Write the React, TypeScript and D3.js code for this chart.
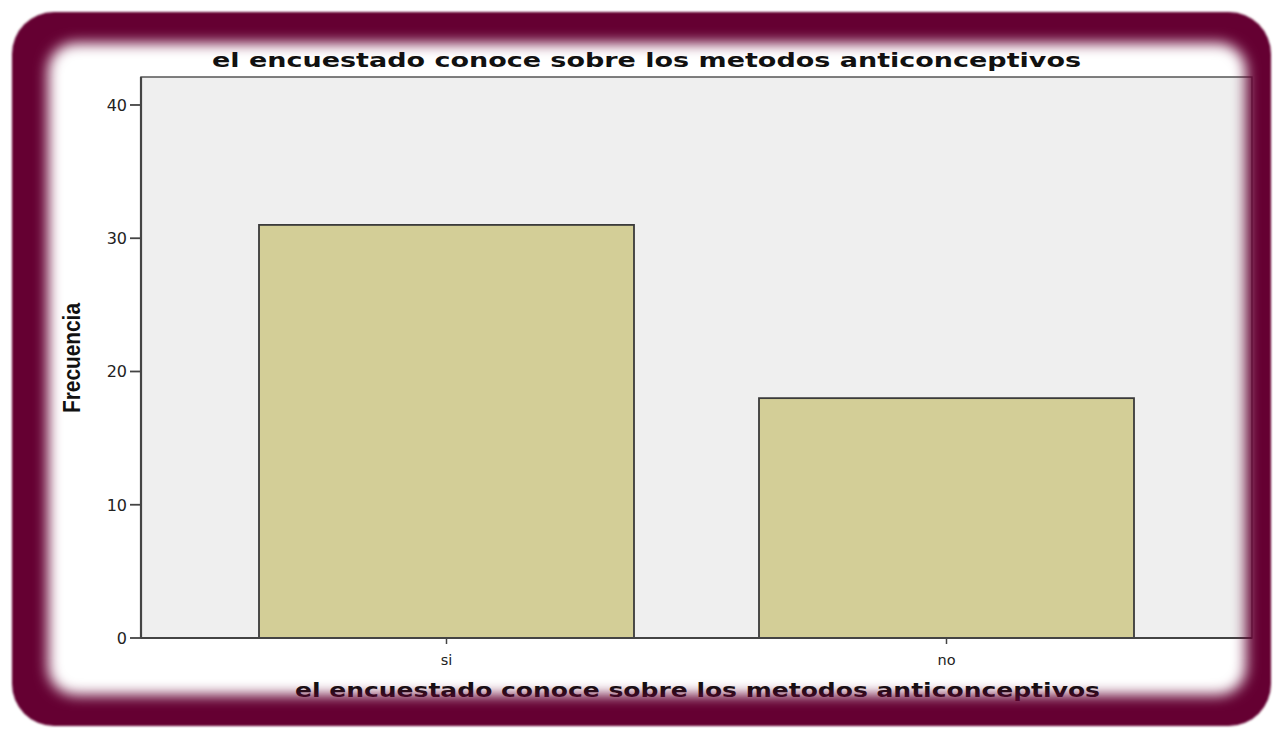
import React from "react";
import * as d3 from "d3";

const categories = ["si", "no"];
const frequencies = [31, 18];
const yTicks = [0, 10, 20, 30, 40];
const titleText = "el encuestado conoce sobre los metodos anticonceptivos";
const xAxisTitle = "el encuestado conoce sobre los metodos anticonceptivos";
const yAxisTitle = "Frecuencia";

const W = 1274;
const H = 729;
const plot = { left: 141, right: 1252, top: 77, bottom: 638 };

export default function App() {
  const x = d3
    .scaleBand<string>()
    .domain(categories)
    .range([plot.left, plot.right])
    .paddingInner(0.25)
    .paddingOuter(0.236);
  const y = d3.scaleLinear().domain([0, 42.1]).range([plot.bottom, plot.top]);

  return (
    <svg
      width={W}
      height={H}
      style={{ position: "absolute", left: 0, top: 0, display: "block" }}
    >
      <defs>
        <filter id="blurInner" x="-10%" y="-10%" width="120%" height="120%">
          <feGaussianBlur stdDeviation="7" />
        </filter>
        <filter id="blurOuter" x="-5%" y="-5%" width="110%" height="110%">
          <feGaussianBlur stdDeviation="1.2" />
        </filter>
        <mask id="frameMask" maskUnits="userSpaceOnUse" x={0} y={0} width={W} height={H}>
          <rect x={0} y={0} width={W} height={H} fill="white" />
          <rect
            x={48}
            y={43}
            width={1198}
            height={652}
            rx={28}
            ry={28}
            fill="black"
            filter="url(#blurInner)"
          />
        </mask>
      </defs>
      <rect x={0} y={0} width={W} height={H} fill="#ffffff" />

      {/* plot background */}
      <rect
        x={plot.left}
        y={plot.top}
        width={plot.right - plot.left}
        height={plot.bottom - plot.top}
        fill="#efefef"
        stroke="#555"
        strokeWidth={1.5}
      />

      {/* bars */}
      {categories.map((c, i) => (
        <rect
          key={c}
          x={x(c)!}
          y={y(frequencies[i])}
          width={x.bandwidth()}
          height={y(0) - y(frequencies[i])}
          fill="#d3ce97"
          stroke="#3a3a3a"
          strokeWidth={1.8}
        />
      ))}

      {/* y axis */}
      <line x1={plot.left} x2={plot.left} y1={plot.top} y2={plot.bottom} stroke="#444" strokeWidth={2.2} />
      {yTicks.map((t) => (
        <g key={t}>
          <line x1={plot.left - 11} x2={plot.left} y1={y(t)} y2={y(t)} stroke="#444" strokeWidth={1.8} />
          <text
            x={plot.left - 14}
            y={y(t) + 6}
            textAnchor="end"
            fontFamily="DejaVu Sans, Verdana, sans-serif"
            fontSize={16}
            fill="#222"
          >
            {t}
          </text>
        </g>
      ))}

      {/* x axis */}
      <line x1={plot.left} x2={plot.right} y1={plot.bottom} y2={plot.bottom} stroke="#444" strokeWidth={2} />
      {categories.map((c) => {
        const cx = x(c)! + x.bandwidth() / 2;
        return (
          <g key={c}>
            <line x1={cx} x2={cx} y1={plot.bottom} y2={plot.bottom + 6} stroke="#444" strokeWidth={1.5} />
            <text
              x={cx}
              y={665}
              textAnchor="middle"
              fontFamily="DejaVu Sans, Verdana, sans-serif"
              fontSize={14.5}
              fill="#222"
            >
              {c}
            </text>
          </g>
        );
      })}

      {/* titles */}
      <text
        x={646.5}
        y={67}
        textAnchor="middle"
        fontFamily="DejaVu Sans, Verdana, sans-serif"
        fontWeight="bold"
        fontSize={19.5}
        textLength={869}
        lengthAdjust="spacingAndGlyphs"
        fill="#111"
      >
        {titleText}
      </text>
      <text
        x={697.5}
        y={697}
        textAnchor="middle"
        fontFamily="DejaVu Sans, Verdana, sans-serif"
        fontWeight="bold"
        fontSize={19.5}
        textLength={805}
        lengthAdjust="spacingAndGlyphs"
        fill="#111"
      >
        {xAxisTitle}
      </text>
      <text
        transform={`translate(80,358) rotate(-90)`}
        textAnchor="middle"
        fontFamily="Liberation Sans, Arial, sans-serif"
        fontWeight="bold"
        fontSize={24}
        textLength={110}
        lengthAdjust="spacingAndGlyphs"
        fill="#111"
      >
        {yAxisTitle}
      </text>

      {/* decorative frame */}
      <g mask="url(#frameMask)">
        <rect
          x={12}
          y={12}
          width={1259}
          height={714}
          rx={42}
          ry={42}
          fill="#650033"
          filter="url(#blurOuter)"
        />
      </g>
    </svg>
  );
}
